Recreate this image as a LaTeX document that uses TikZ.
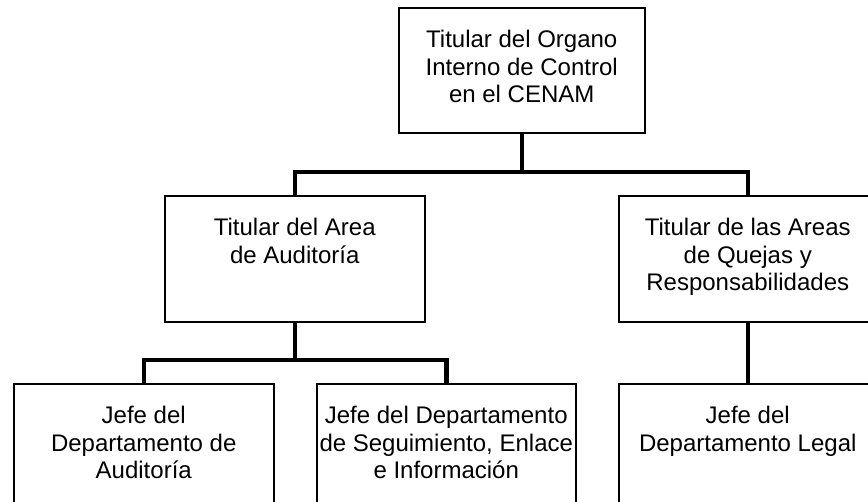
\documentclass[tikz,border=0pt]{standalone}
\usepackage{fontspec}
\setmainfont{Liberation Sans}
\begin{document}
\begin{tikzpicture}[x=1pt,y=-1pt,
  box/.style={draw, line width=1.5pt, fill=white, inner sep=0pt, anchor=north west},
  lbl/.style={anchor=north, inner sep=0pt, align=center, font=\fontsize{24}{27.5}\selectfont},
  conn/.style={line width=4.5pt, line join=miter, line cap=butt}]
\useasboundingbox (0,0) rectangle (868,501);
\fill[white] (0,0) rectangle (868,501);
\begin{scope}
\clip (0,0) rectangle (868,501);
% boxes
\node[box, minimum width=246pt, minimum height=125pt] (top) at (398,7) {};
\node[box, minimum width=260pt, minimum height=126pt] (midL) at (164,195) {};
\node[box, minimum width=258pt, minimum height=126pt] (midR) at (618,195) {};
\node[box, minimum width=260pt, minimum height=140pt] (botL) at (13,383) {};
\node[box, minimum width=259pt, minimum height=140pt] (botM) at (316,383) {};
\node[box, minimum width=258pt, minimum height=140pt] (botR) at (618,383) {};
% labels
\node[lbl] (topT) at ([yshift=-23pt]top.north) {Titular del Organo\\Interno de Control\\en el CENAM};
\node[lbl] (midLT) at ([yshift=-23pt]midL.north) {Titular del Area\\de Auditoría};
\node[lbl] (midRT) at ([yshift=-23pt]midR.north) {Titular de las Areas\\de Quejas y\\Responsabilidades};
\node[lbl] (botLT) at ([yshift=-23pt]botL.north) {Jefe del\\Departamento de\\Auditoría};
\node[lbl] (botMT) at ([yshift=-23pt]botM.north) {Jefe del Departamento\\de Seguimiento, Enlace\\e Información};
\node[lbl] (botRT) at ([yshift=-23pt]botR.north) {Jefe del\\Departamento Legal};
% connectors
\coordinate (bus1) at (0,172);
\coordinate (bus2) at (0,360);
\draw[conn] (top.south) -- (top.south |- bus1);
\draw[conn] (midL.north) |- (bus1 -| top.south) -| (midR.north);
\draw[conn] (midL.south) -- (midL.south |- bus2);
\draw[conn] (botL.north) |- (bus2 -| midL.south) -| (botM.north);
\draw[conn] (midR.south) -- (botR.north);
\end{scope}
\end{tikzpicture}
\end{document}
